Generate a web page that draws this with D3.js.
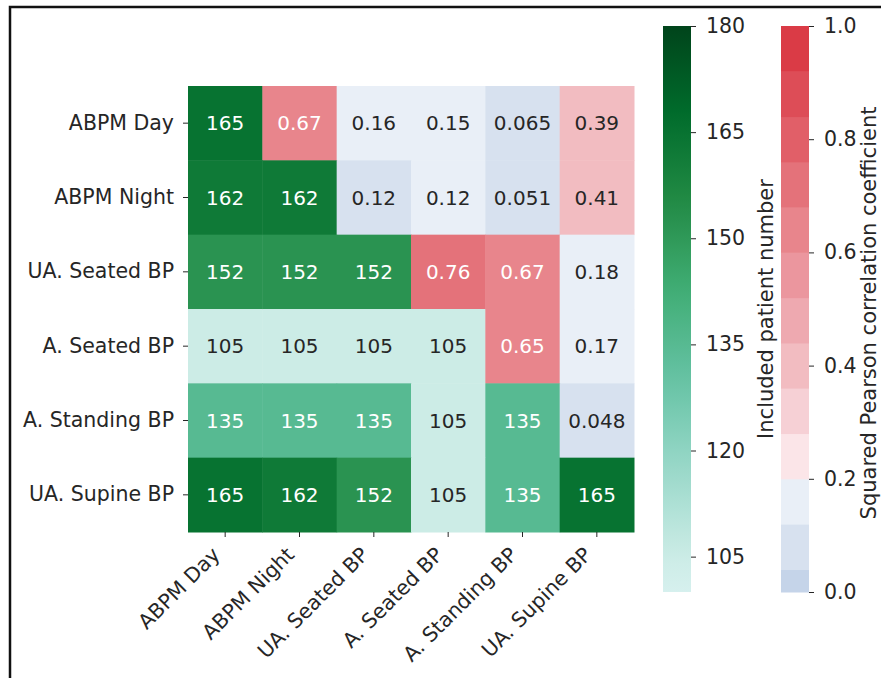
<!DOCTYPE html>
<html>
<head>
<meta charset="utf-8">
<script src="https://cdn.jsdelivr.net/npm/d3@7"></script>
<style>
  body { margin: 0; background: #fff; }
  svg { display: block; }
  text { font-family: "DejaVu Sans", sans-serif; }
  .tick text { fill: #262626; }
  .tick line { stroke: #262626; }
</style>
</head>
<body>
<script>
var measures = ['ABPM Day', 'ABPM Night', 'UA. Seated BP', 'A. Seated BP', 'A. Standing BP', 'UA. Supine BP'];

// lower triangle (incl. diagonal): included patient number
var patientCounts = [
  [165, null, null, null, null, null],
  [162, 162, null, null, null, null],
  [152, 152, 152, null, null, null],
  [105, 105, 105, 105, null, null],
  [135, 135, 135, 105, 135, null],
  [165, 162, 152, 105, 135, 165]
];

// upper triangle: squared pearson correlation
var r2Values = [
  [null, 0.67, 0.16, 0.15, 0.065, 0.39],
  [null, null, 0.118, 0.121, 0.051, 0.41],
  [null, null, null, 0.759, 0.67, 0.18],
  [null, null, null, null, 0.65, 0.17],
  [null, null, null, null, null, 0.048],
  [null, null, null, null, null, null]
];

var countTicks = [105, 120, 135, 150, 165, 180];
var r2Ticks = [0.0, 0.2, 0.4, 0.6, 0.8, 1.0];

// discrete diverging palette of the correlation colourbar
var r2Bounds = [0.04, 0.12, 0.20, 0.28, 0.36, 0.44, 0.52, 0.60, 0.68, 0.76, 0.84, 0.92];
var r2Colors = ['#c5d4e9', '#d7e1ef', '#e9eff7', '#fbe5e8', '#f6d0d5', '#f2bcc1', '#eea9b0',
                '#eb969e', '#e8858c', '#e4727a', '#e15f68', '#dd4d57', '#da3b46'];

var W = 881, H = 678;
var svg = d3.select('body').append('svg').attr('width', W).attr('height', H);

// figure frame
svg.append('rect')
  .attr('x', 10).attr('y', 7).attr('width', 900).attr('height', 700)
  .attr('fill', 'none').attr('stroke', '#111').attr('stroke-width', 2.5);

var x = d3.scaleBand().domain(measures).range([188, 634]);
var y = d3.scaleBand().domain(measures).range([86, 532]);

var bugn = d3.scaleLinear().domain(d3.range(9).map(function (i) { return i / 8; })).range(d3.schemeBuGn[9]);
var countColor = function (v) { return bugn(0.2 + 0.8 * (v - 100) / 80); };
var r2Color = d3.scaleThreshold().domain(r2Bounds).range(r2Colors);

function textColor(c) {
  var rgb = d3.rgb(c);
  var lum = [rgb.r, rgb.g, rgb.b].map(function (v) {
    v /= 255;
    return v <= 0.03928 ? v / 12.92 : Math.pow((v + 0.055) / 1.055, 2.4);
  });
  var L = 0.2126 * lum[0] + 0.7152 * lum[1] + 0.0722 * lum[2];
  return L > 0.408 ? '#262626' : '#ffffff';
}

var cells = [];
measures.forEach(function (row, i) {
  measures.forEach(function (col, j) {
    if (patientCounts[i][j] != null) {
      cells.push({row: row, col: col, label: String(patientCounts[i][j]), fill: countColor(patientCounts[i][j])});
    } else if (r2Values[i][j] != null) {
      var v = r2Values[i][j];
      cells.push({row: row, col: col, label: d3.format('.2g')(v), fill: r2Color(v)});
    }
  });
});

var g = svg.append('g');
g.selectAll('rect').data(cells).enter().append('rect')
  .attr('x', function (d) { return x(d.col); })
  .attr('y', function (d) { return y(d.row); })
  .attr('width', x.bandwidth() + 0.5)
  .attr('height', y.bandwidth() + 0.5)
  .attr('fill', function (d) { return d.fill; });

g.selectAll('text').data(cells).enter().append('text')
  .attr('x', function (d) { return x(d.col) + x.bandwidth() / 2; })
  .attr('y', function (d) { return y(d.row) + y.bandwidth() / 2; })
  .attr('dy', '0.36em')
  .attr('text-anchor', 'middle')
  .style('font-size', '20px')
  .attr('fill', function (d) { return textColor(d.fill); })
  .text(function (d) { return d.label; });

// axes
var yAxis = svg.append('g').attr('transform', 'translate(188,0)')
  .call(d3.axisLeft(y).tickSize(5).tickPadding(9));
yAxis.select('.domain').remove();
yAxis.selectAll('text').style('font-size', '20.5px');

var xAxis = svg.append('g').attr('transform', 'translate(0,532)')
  .call(d3.axisBottom(x).tickSize(5));
xAxis.select('.domain').remove();
xAxis.selectAll('text')
  .style('font-size', '20.5px')
  .attr('text-anchor', 'end')
  .attr('x', 0).attr('y', 0).attr('dy', 0)
  .attr('transform', 'translate(-4,24) rotate(-45)');

// patient number colourbar
var cbTop = 26, cbBottom = 592;
var yG = d3.scaleLinear().domain([100, 180]).range([cbBottom, cbTop]);
var defs = svg.append('defs');
var grad = defs.append('linearGradient').attr('id', 'gGrad')
  .attr('x1', 0).attr('x2', 0).attr('y1', 1).attr('y2', 0);
d3.range(0, 1.0001, 0.05).forEach(function (t) {
  grad.append('stop').attr('offset', t).attr('stop-color', countColor(100 + 80 * t));
});
svg.append('rect').attr('x', 663).attr('y', cbTop).attr('width', 28).attr('height', cbBottom - cbTop)
  .attr('fill', 'url(#gGrad)');
var gAxis = svg.append('g').attr('transform', 'translate(691,0)')
  .call(d3.axisRight(yG).tickValues(countTicks).tickSize(5).tickPadding(10));
gAxis.select('.domain').remove();
gAxis.selectAll('text').style('font-size', '20.5px');
svg.append('text')
  .attr('transform', 'translate(773,' + ((cbTop + cbBottom) / 2) + ') rotate(-90)')
  .attr('text-anchor', 'middle')
  .style('font-size', '21px').attr('fill', '#262626')
  .text('Included patient number');

// correlation colourbar
var yR = d3.scaleLinear().domain([0, 1]).range([cbBottom, cbTop]);
var segs = [0].concat(r2Bounds).concat([1]);
svg.append('g').selectAll('rect').data(r2Colors).enter().append('rect')
  .attr('x', 781).attr('width', 28)
  .attr('y', function (d, i) { return yR(segs[i + 1]); })
  .attr('height', function (d, i) { return yR(segs[i]) - yR(segs[i + 1]) + 0.5; })
  .attr('fill', function (d) { return d; });
var rAxis = svg.append('g').attr('transform', 'translate(809,0)')
  .call(d3.axisRight(yR).tickValues(r2Ticks).tickFormat(d3.format('.1f')).tickSize(5).tickPadding(10));
rAxis.select('.domain').remove();
rAxis.selectAll('text').style('font-size', '20.5px');
svg.append('text')
  .attr('transform', 'translate(876,313) rotate(-90)')
  .attr('text-anchor', 'middle')
  .style('font-size', '21px').attr('fill', '#262626')
  .text('Squared Pearson correlation coefficient');
</script>
</body>
</html>
